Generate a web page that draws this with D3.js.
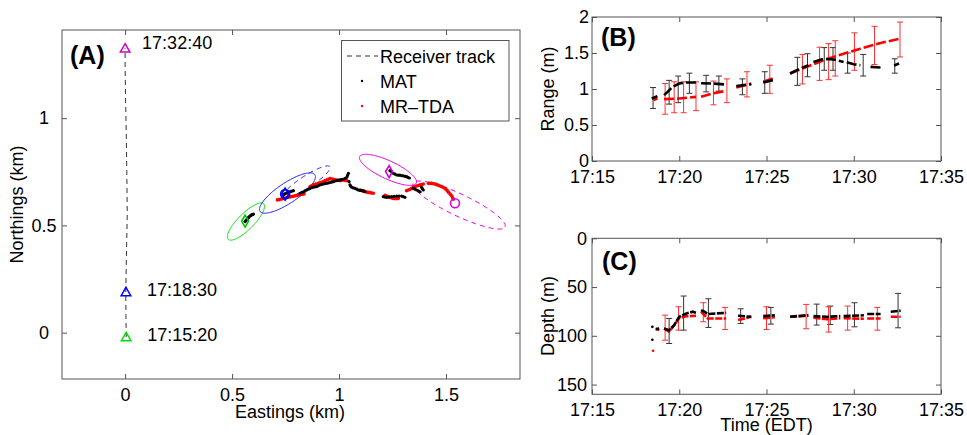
<!DOCTYPE html>
<html><head><meta charset="utf-8">
<script src="https://cdn.jsdelivr.net/npm/d3@7"></script>
<style>
body{margin:0;background:#fff}
text{font-family:"Liberation Sans",Arial,Helvetica,sans-serif;fill:#000}
</style>
</head><body>
<svg id="c" width="967" height="435"></svg>
<script>
// ---------------- DATA ----------------
// Panel A: receiver track (km)
const trackE = [0.005, 0.004, 0.003, 0.006, 0.010, 0.008, 0.005, 0.002, 0.000, 0.000];
const trackN = [-0.02, 0.08, 0.19, 0.35, 0.55, 0.75, 0.95, 1.10, 1.25, 1.326];
// receiver time marks
const markE = [0.005, 0.004, 0.000];
const markN = [-0.02, 0.19, 1.326];
const markLabel = ["17:15:20", "17:18:30", "17:32:40"];
const markColor = ["#00e000", "#0000ff", "#d000d0"];
// MAT positions (km)
const matE = [0.561,0.565,0.569,0.573,0.576,0.580,0.584,0.588,0.592,0.596,0.600,
  0.740,0.746,0.752,0.758,0.763,0.768,0.774,0.780,0.787,
  0.818,0.826,0.833,0.841,0.849,0.857,0.865,0.872,0.880,0.888,0.896,0.903,0.911,0.919,0.927,0.934,0.942,0.950,0.958,0.966,0.974,0.981,0.989,0.997,1.005,1.012,1.020,1.028,1.036,1.040,1.044,1.047,1.051,1.055,1.059,1.067,1.075,1.083,1.090,1.098,1.106,1.114,1.121,
  1.207,1.215,1.223,1.234,1.246,1.258,1.270,1.281,1.293,1.300,1.308,
  1.238,1.246,1.254,1.262,1.270,1.278,1.285,1.293,1.301,1.309,1.316,1.322,1.329,
  1.347,1.355,1.363,1.371,1.379,1.386,1.390,1.394];
const matN = [0.518,0.523,0.528,0.532,0.536,0.540,0.544,0.547,0.549,0.551,0.553,
  0.642,0.646,0.650,0.652,0.654,0.656,0.658,0.660,0.662,
  0.650,0.654,0.657,0.661,0.665,0.669,0.673,0.676,0.678,0.680,0.681,0.685,0.689,0.691,0.693,0.695,0.696,0.698,0.700,0.702,0.704,0.707,0.709,0.711,0.712,0.714,0.715,0.719,0.724,0.733,0.743,0.704,0.689,0.683,0.678,0.675,0.673,0.669,0.665,0.663,0.662,0.660,0.657,
  0.634,0.632,0.631,0.632,0.634,0.636,0.637,0.637,0.637,0.634,0.631,
  0.755,0.749,0.743,0.739,0.735,0.734,0.734,0.732,0.731,0.729,0.727,0.724,0.721,
  0.673,0.669,0.665,0.661,0.657,0.678,0.671,0.665];
// MR-TDA positions (km)
const tdaE = [0.712,0.720,0.727,0.735,0.743,0.751,0.759,0.766,0.774,0.782,0.790,0.797,0.805,0.813,0.821,0.828,0.836,
  0.865,0.872,0.880,0.888,0.896,0.903,0.911,0.919,0.927,0.934,0.942,0.950,0.958,0.966,0.974,0.981,0.989,0.997,1.005,1.012,1.020,1.028,1.036,
  1.098,1.106,1.114,1.121,1.129,1.137,1.145,1.152,1.160,
  1.215,1.223,1.231,1.238,1.246,1.254,1.262,1.270,1.277,
  1.316,1.324,1.332,1.340,1.347,1.355,1.363,1.371,1.379,1.386,1.394,
  1.418,1.426,1.433,1.441,1.449,1.456,1.464,1.472,1.480,1.488,1.495,1.500,1.506,1.511,1.516,1.522,1.527,1.531,1.534];
const tdaN = [0.619,0.620,0.622,0.624,0.626,0.628,0.631,0.632,0.634,0.635,0.637,0.638,0.640,0.642,0.644,0.645,0.647,
  0.681,0.685,0.689,0.691,0.693,0.696,0.699,0.701,0.704,0.708,0.712,0.715,0.718,0.716,0.715,0.713,0.712,0.710,0.709,0.710,0.712,0.710,0.709,
  0.665,0.663,0.661,0.658,0.656,0.654,0.653,0.651,0.650,
  0.640,0.637,0.634,0.631,0.628,0.626,0.625,0.625,0.626,
  0.662,0.665,0.668,0.673,0.678,0.681,0.684,0.686,0.689,0.691,0.693,
  0.696,0.696,0.696,0.694,0.693,0.690,0.687,0.684,0.681,0.677,0.673,0.668,0.662,0.656,0.650,0.643,0.637,0.629,0.622];
// uncertainty ellipses
const ellE   = [0.565, 0.759, 0.849, 1.229, 1.561];
const ellN   = [0.518, 0.651, 0.704, 0.759, 0.595];
const ellA   = [0.117, 0.154, 0.129, 0.146, 0.238];
const ellB   = [0.037, 0.047, 0.028, 0.042, 0.051];
const ellAng = [45, 33.7, 32.7, -25, -25.4];
const ellColor = ["#00e000", "#2020ff", "#2020ff", "#e000e0", "#e000e0"];
const ellDashed = [false, false, true, false, true];
// position markers
const dmE = [0.561, 0.748, 1.234];
const dmN = [0.520, 0.646, 0.751];
const dmColor = ["#00c000", "#0000ff", "#d000d0"];
const cmE = [0.748, 1.542];
const cmN = [0.646, 0.603];
const cmColor = ["#0000ff", "#e000e0"];

// Panel B: range (m) vs time (minutes after 17:00); null = gap
const matRangeT = [18.42,18.75,18.9, 19.13,19.33,19.62,20.0,20.38,20.96,21.1, 21.25,21.92,22.69,23.0, 23.27,24.13,24.5, 24.81,25.48,25.9, 26.35,26.92,27.40,27.55, 27.69,28.27,28.85,29.42,29.5, 29.6,30.0,30.38,30.7, 30.96,31.54,31.9, 32.31,32.6];
const matRangeV = [0.868,0.90,null, 0.915,0.96,1.03,1.076,1.09,1.09,null, 1.08,1.076,1.062,null, 1.04,1.067,null, 1.09,1.13,null, 1.215,1.284,1.33,null, 1.376,1.42,1.41,1.376,null, 1.37,1.344,1.33,null, 1.307,1.298,null, 1.326,1.353];
const tdaRangeT = [18.52,18.75,18.9, 19.13,20.0,20.96,21.1, 21.25,21.92,22.69,23.0, 23.27,24.13,24.5, 24.81,25.48,25.9, 26.35,27.31,28.27,29.42,30.38,31.54,32.69];
const tdaRangeV = [0.845,0.868,null, 0.859,0.868,0.891,null, 0.891,0.938,0.975,null, 1.021,1.076,null, 1.10,1.155,null, 1.215,1.307,1.40,1.49,1.56,1.64,1.70];
// error bars (B)
const matRangeErrT  = [18.5,19.42,19.94,20.58,21.54,22.27,23.62,24.90,26.77,27.35,28.31,28.81,29.65,30.54,32.35];
const matRangeErrLo = [0.73,0.79,0.81,0.94,0.96,0.97,0.92,0.94,1.05,1.17,1.26,1.26,1.22,1.18,1.22];
const matRangeErrHi = [1.02,1.12,1.18,1.22,1.19,1.18,1.14,1.24,1.44,1.49,1.575,1.575,1.50,1.48,1.42];
const tdaRangeErrT  = [19.19,19.71,20.25,20.96,21.96,22.73,23.88,25.19,27.06,28.04,28.56,28.94,30.04,31.19,32.65];
const tdaRangeErrLo = [0.65,0.67,0.67,0.70,0.78,0.81,0.89,0.94,1.07,1.12,1.13,1.18,1.26,1.34,1.445];
const tdaRangeErrHi = [1.076,1.10,1.10,1.10,1.11,1.14,1.24,1.33,1.48,1.58,1.63,1.67,1.78,1.87,1.93];

// Panel C: depth (m) vs time
const matDepthT = [18.65,18.85,18.95, 19.13,19.42,19.71,20.0,20.38,20.77,20.96,21.1, 21.25,21.44,21.63,22.12,22.69,23.0, 23.37,24.13,24.5, 24.81,25.48,25.9, 26.35,27.40,27.55, 27.69,28.46,29.23,29.33, 29.42,30.58,30.68, 30.77,31.54,31.9, 32.12,32.69];
const matDepthV = [93,92.5,null, 92.5,94.2,89,80.5,77.3,75.3,76.4,null, 73.6,75.3,77.7,77,76.4,null, 79.5,80.5,null, 79.8,79,null, 80.5,78.8,null, 79.8,80.5,79.8,null, 79.8,79,null, 77.7,77.7,null, 75.3,74.3];
const tdaDepthT = [18.65,18.85,18.95, 19.13,19.42,19.71,20.0,20.38,20.96,21.1, 21.25,21.44,21.63,22.69,23.0, 23.37,24.13,24.5, 24.81,25.48,25.9, 26.35,27.40,27.55, 27.69,28.46,29.23,29.33, 29.42,30.58,30.68, 30.77,31.54,31.9, 32.12,32.69];
const tdaDepthV = [93,94,null, 92.5,95.9,89,82,80,79.5,null, 75.3,78.8,82.2,82.2,null, 83.9,80.5,null, 82,81,null, 80.5,79.5,null, 81.5,83,82,null, 82,82.5,null, 82.2,82.2,null, 80.5,80.5];
const matDepthDotT = [18.46, 18.46];
const matDepthDotV = [90.8, 104];
const tdaDepthDotT = [18.5];
const tdaDepthDotV = [115.4];
const matDepthErrT  = [19.42,20.25,21.67,23.52,25.25,27.88,28.65,30.04,32.54];
const matDepthErrLo = [82.2,59.2,62,72.3,70.9,67.5,69.5,66.1,56.5];
const matDepthErrHi = [107.9,94.2,91.4,87.3,88,89,88.4,90.8,91.8];
const tdaDepthErrT  = [19.19,19.96,21.38,22.63,25.0,27.27,28.56,29.65,31.35];
const tdaDepthErrLo = [78.8,70.2,66.1,70.9,70.2,67.8,70.2,69.5,70.9];
const tdaDepthErrHi = [104.5,94.2,85.6,93.5,93.5,92.8,96.2,94.2,94.2];

// tick values
const aXTicks = [0, 0.5, 1, 1.5];
const aYTicks = [0, 0.5, 1];
const timeTicks = [15, 20, 25, 30, 35];
const rangeTicks = [0, 0.5, 1, 1.5, 2];
const depthTicks = [0, 50, 100, 150];

// ---------------- DRAW ----------------
const svg = d3.select("#c");
const FS = 18;
const boxColor = "#555";

function frame(x, y, xt, yt, xfmt, yfmt, yLabelMode) {
  const [x0, x1] = x.range();
  const yb = Math.max(...y.range()), yt0 = Math.min(...y.range());
  const g = svg.append("g");
  g.append("g").attr("transform", `translate(0,${yb})`)
    .call(d3.axisBottom(x).tickValues(xt).tickSizeInner(-5).tickSizeOuter(0).tickPadding(9).tickFormat(xfmt));
  g.append("g").attr("transform", `translate(0,${yt0})`)
    .call(d3.axisTop(x).tickValues(xt).tickSizeInner(-5).tickSizeOuter(0).tickFormat(""));
  const left = g.append("g").attr("transform", `translate(${x0},0)`)
    .call(d3.axisLeft(y).tickValues(yt).tickSizeInner(-5).tickSizeOuter(0).tickPadding(yLabelMode.pad).tickFormat(yfmt));
  g.append("g").attr("transform", `translate(${x1},0)`)
    .call(d3.axisRight(y).tickValues(yt).tickSizeInner(-5).tickSizeOuter(0).tickFormat(""));
  g.selectAll(".domain").remove();
  g.selectAll(".tick line").attr("stroke", boxColor);
  g.selectAll(".tick text").attr("font-size", FS).attr("font-family", '"Liberation Sans",Arial,sans-serif').attr("fill", "#000");
  if (yLabelMode.middle) left.selectAll(".tick text").attr("text-anchor", "middle").attr("x", -yLabelMode.middle);
  g.append("rect").attr("x", x0).attr("y", yt0).attr("width", x1 - x0).attr("height", yb - yt0)
    .attr("fill", "none").attr("stroke", boxColor).attr("stroke-width", 1);
  return g;
}

// ----- Panel A -----
const xA = d3.scaleLinear([-0.295, 1.846], [62, 520]);
const yA = d3.scaleLinear([-0.216, 1.411], [379, 30]);
frame(xA, yA, aXTicks, aYTicks, d3.format("~g"), d3.format("~g"), {pad: 9, middle: 18});

const gA = svg.append("g");
// track
gA.append("path").datum(trackE.map((e, i) => [e, trackN[i]]))
  .attr("d", d3.line().x(d => xA(d[0])).y(d => yA(d[1])))
  .attr("fill", "none").attr("stroke", "#333").attr("stroke-width", 1).attr("stroke-dasharray", "5,4");
// ellipses
ellE.forEach((cx, i) => {
  const th = ellAng[i] * Math.PI / 180;
  const pts = d3.range(0, 361, 3).map(t => {
    const p = t * Math.PI / 180, u = ellA[i] * Math.cos(p), v = ellB[i] * Math.sin(p);
    return [cx + u * Math.cos(th) - v * Math.sin(th), ellN[i] + u * Math.sin(th) + v * Math.cos(th)];
  });
  gA.append("path").datum(pts).attr("d", d3.line().x(d => xA(d[0])).y(d => yA(d[1])))
    .attr("fill", "none").attr("stroke", ellColor[i]).attr("stroke-width", 1)
    .attr("stroke-dasharray", ellDashed[i] ? "5,4" : null);
});
// points
gA.selectAll(".tda").data(tdaE.map((e, i) => [e, tdaN[i]])).enter().append("circle")
  .attr("cx", d => xA(d[0])).attr("cy", d => yA(d[1])).attr("r", 1.8).attr("fill", "#ff0000");
gA.selectAll(".mat").data(matE.map((e, i) => [e, matN[i]])).enter().append("circle")
  .attr("cx", d => xA(d[0])).attr("cy", d => yA(d[1])).attr("r", 1.6).attr("fill", "#000");
// diamonds and circles
dmE.forEach((e, i) => {
  gA.append("path").attr("d", d3.symbol(d3.symbolDiamond, 42)())
    .attr("transform", `translate(${xA(e)},${yA(dmN[i])})`)
    .attr("fill", "none").attr("stroke", dmColor[i]).attr("stroke-width", 1.6);
});
cmE.forEach((e, i) => {
  gA.append("circle").attr("cx", xA(e)).attr("cy", yA(cmN[i])).attr("r", 4.5)
    .attr("fill", "none").attr("stroke", cmColor[i]).attr("stroke-width", 1.6);
});
// triangles + labels
markE.forEach((e, i) => {
  gA.append("path").attr("d", d3.symbol(d3.symbolTriangle, 40)())
    .attr("transform", `translate(${xA(e)},${yA(markN[i]) + 1})`)
    .attr("fill", "none").attr("stroke", markColor[i]).attr("stroke-width", 1.5);
  gA.append("text").attr("x", xA(e) + (i === 2 ? 17 : 21)).attr("y", yA(markN[i]) + (i === 2 ? 1 : 4))
    .attr("font-size", FS).text(markLabel[i]);
});
gA.append("text").attr("x", 70).attr("y", 64).attr("font-size", 25).attr("font-weight", "bold").text("(A)");
// legend
const lg = svg.append("g");
lg.append("rect").attr("x", 341.5).attr("y", 40.5).attr("width", 167.5).attr("height", 80.5)
  .attr("fill", "#fff").attr("stroke", "#555").attr("stroke-width", 1);
lg.append("line").attr("x1", 347).attr("x2", 378).attr("y1", 56).attr("y2", 56)
  .attr("stroke", "#333").attr("stroke-dasharray", "5,4");
lg.append("circle").attr("cx", 362).attr("cy", 81).attr("r", 1.2).attr("fill", "#000");
lg.append("circle").attr("cx", 362).attr("cy", 106).attr("r", 1.2).attr("fill", "#f00");
[["Receiver track", 62.5], ["MAT", 87.5], ["MR\u2013TDA", 112.5]].forEach(([t, yy]) =>
  lg.append("text").attr("x", 380).attr("y", yy).attr("font-size", FS).text(t));
// axis labels A
svg.append("text").attr("transform", "translate(23,204.5) rotate(-90)").attr("text-anchor", "middle")
  .attr("font-size", FS).text("Northings (km)");
svg.append("text").attr("x", 290).attr("y", 418).attr("text-anchor", "middle").attr("font-size", FS).text("Eastings (km)");

// ----- Panels B and C -----
const timeFmt = d => "17:" + d3.format("02d")(d);
const xB = d3.scaleLinear([15, 35], [592, 941]);
const yB = d3.scaleLinear([0, 2], [161, 17]);
frame(xB, yB, timeTicks, rangeTicks, timeFmt, d3.format("~g"), {pad: 3});
const xC = d3.scaleLinear([15, 35], [592, 941]);
const yC = d3.scaleLinear([0, 160], [238.3, 394.3]);
frame(xC, yC, timeTicks, depthTicks, timeFmt, d3.format("~g"), {pad: 5});

function errBars(x, y, T, Lo, Hi, color) {
  const g = svg.append("g").attr("stroke", color).attr("stroke-width", 1);
  T.forEach((t, i) => {
    const xx = x(t), a = y(Lo[i]), b = y(Hi[i]);
    g.append("line").attr("x1", xx).attr("x2", xx).attr("y1", a).attr("y2", b);
    g.append("line").attr("x1", xx - 3).attr("x2", xx + 3).attr("y1", a).attr("y2", a);
    g.append("line").attr("x1", xx - 3).attr("x2", xx + 3).attr("y1", b).attr("y2", b);
  });
}
function series(x, y, T, V, color, w, dash) {
  const line = d3.line().defined((d) => d[1] !== null).x(d => x(d[0])).y(d => y(d[1]));
  svg.append("path").datum(T.map((t, i) => [t, V[i]])).attr("d", line)
    .attr("fill", "none").attr("stroke", color).attr("stroke-width", w).attr("stroke-dasharray", dash);
}
// B
errBars(xB, yB, matRangeErrT, matRangeErrLo, matRangeErrHi, "#333");
errBars(xB, yB, tdaRangeErrT, tdaRangeErrLo, tdaRangeErrHi, "#ff3030");
series(xB, yB, tdaRangeT, tdaRangeV, "#ff0000", 2.6, "10,3");
series(xB, yB, matRangeT, matRangeV, "#000", 2.6, "10,3");
// C
errBars(xC, yC, matDepthErrT, matDepthErrLo, matDepthErrHi, "#333");
errBars(xC, yC, tdaDepthErrT, tdaDepthErrLo, tdaDepthErrHi, "#ff3030");
series(xC, yC, tdaDepthT, tdaDepthV, "#ff0000", 2.6, "7,1.5");
series(xC, yC, matDepthT, matDepthV, "#000", 2.6, "7,1.5");
matDepthDotT.forEach((t, i) => svg.append("circle").attr("cx", xC(t)).attr("cy", yC(matDepthDotV[i])).attr("r", 1.3).attr("fill", "#000"));
tdaDepthDotT.forEach((t, i) => svg.append("circle").attr("cx", xC(t)).attr("cy", yC(tdaDepthDotV[i])).attr("r", 1.3).attr("fill", "#f00"));

svg.append("text").attr("x", 601).attr("y", 46).attr("font-size", 25).attr("font-weight", "bold").text("(B)");
svg.append("text").attr("x", 602).attr("y", 269.5).attr("font-size", 25).attr("font-weight", "bold").text("(C)");
svg.append("text").attr("transform", "translate(554,89) rotate(-90)").attr("text-anchor", "middle").attr("font-size", FS).text("Range (m)");
svg.append("text").attr("transform", "translate(554,316) rotate(-90)").attr("text-anchor", "middle").attr("font-size", FS).text("Depth (m)");
svg.append("text").attr("x", 766.5).attr("y", 431).attr("text-anchor", "middle").attr("font-size", FS).text("Time (EDT)");
</script>
</body></html>
